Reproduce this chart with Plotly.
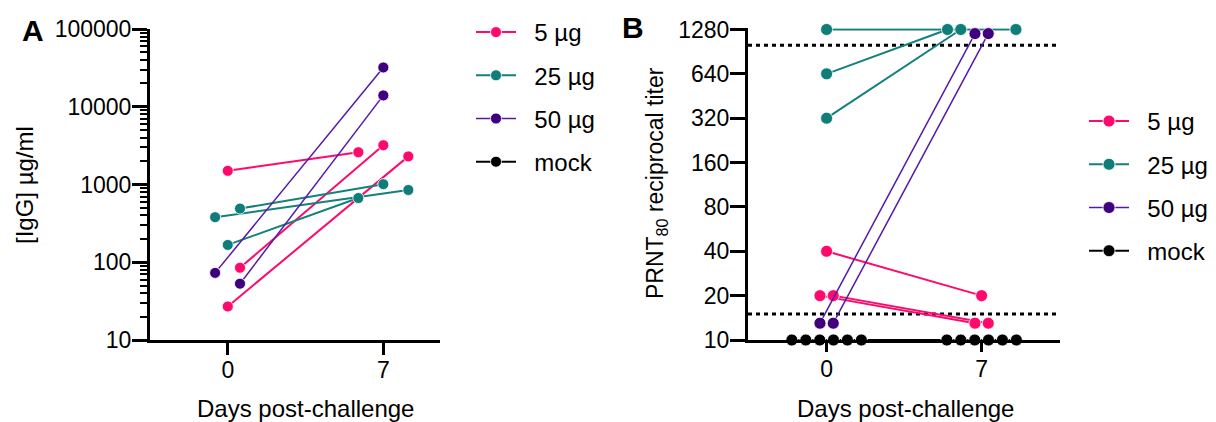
import plotly.graph_objects as go

FONT = "Liberation Sans, Arial, Helvetica, sans-serif"
PAGE_W, PAGE_H = 1216, 422
OFF = 8  # default page body margin around the figure
W, H = PAGE_W - OFF, PAGE_H - OFF

# ---------------- data ----------------
days = [0, 7]
day_labels = ["0", "7"]
series = ["5 µg", "25 µg", "50 µg", "mock"]

# Panel A: [IgG] µg/ml per animal (day 0 -> day 7)
igg_5_d0 = [1500, 85, 27]
igg_5_d7 = [2600, 3200, 2300]
igg_25_d0 = [380, 490, 167]
igg_25_d7 = [850, 1010, 670]
igg_50_d0 = [73, 53]
igg_50_d7 = [32000, 14000]

# Panel B: PRNT80 reciprocal titer per animal (day 0 -> day 7)
prnt_5_d0 = [40, 20, 20]
prnt_5_d7 = [20, 13, 13]
prnt_25_d0 = [1280, 640, 320]
prnt_25_d7 = [1280, 1280, 1280]
prnt_50_d0 = [13, 13]
prnt_50_d7 = [1200, 1200]
prnt_mock_d0 = [10, 10, 10, 10, 10, 10]
prnt_mock_d7 = [10, 10, 10, 10, 10, 10]
prnt_limits = [15, 1000]

igg_ticks = [10, 100, 1000, 10000, 100000]
prnt_ticks = [10, 20, 40, 80, 160, 320, 640, 1280]

# ---------------- styles / positions ----------------
COL = {"5 µg": "#FF0A6C", "25 µg": "#0F7D79", "50 µg": "#3F007D", "mock": "#000000"}
LINECOL = {"5 µg": "#FF0A6C", "25 µg": "#13807C", "50 µg": "#5519A8", "mock": "#000000"}
LW = {"5 µg": 2, "25 µg": 2, "50 µg": 1.5, "mock": 2}
LEG_PAD = "\u00a0\u00a0"  # gap between legend symbol and label

# horizontal jitter (days) of each animal's symbol (day 0, day 7)
JIT_A = {
    "5 µg": ([0, 0.55, 0], [-1.125, 0, 1.125]),
    "25 µg": ([-0.57, 0.55, 0], [1.125, 0, -1.125]),
    "50 µg": ([-0.57, 0.55], [0, 0]),
}
JIT_B = {
    "5 µg": ([0, -0.3, 0.3], [0, -0.3, 0.3]),
    "25 µg": ([0, 0, 0], [1.55, -1.54, -0.94]),
    "50 µg": ([-0.3, 0.3], [-0.3, 0.3]),
    "mock": ([-1.57, -0.94, -0.31, 0.31, 0.94, 1.57], [-1.57, -0.94, -0.31, 0.31, 0.94, 1.57]),
}

A_XRANGE = [-3.5, 9.55]
B_XRANGE = [-3.55, 10.54]


def px_x(p):
    return (p - OFF) / W


def px_y(p):
    return 1 - (p - OFF) / H


def pairs(d0, d7, j0, j7):
    xs, ys = [], []
    for a, b, ja, jb in zip(d0, d7, j0, j7):
        xs += [days[0] + ja, days[1] + jb, None]
        ys += [a, b, None]
    return xs, ys


fig = go.Figure()

dataA = {
    "5 µg": (igg_5_d0, igg_5_d7),
    "25 µg": (igg_25_d0, igg_25_d7),
    "50 µg": (igg_50_d0, igg_50_d7),
}
dataB = {
    "5 µg": (prnt_5_d0, prnt_5_d7),
    "25 µg": (prnt_25_d0, prnt_25_d7),
    "50 µg": (prnt_50_d0, prnt_50_d7),
    "mock": (prnt_mock_d0, prnt_mock_d7),
}

# dotted limit lines (panel B)
for lim in prnt_limits:
    fig.add_trace(go.Scatter(
        x=B_XRANGE, y=[lim, lim], xaxis="x2", yaxis="y2", mode="lines",
        line=dict(color="black", width=3, dash="4px,4px"), showlegend=False,
        hoverinfo="skip"))

for name in series:
    # panel A
    if name in dataA:
        d0, d7 = dataA[name]
        xs, ys = pairs(d0, d7, *JIT_A[name])
    else:
        xs, ys = [None], [None]
    fig.add_trace(go.Scatter(
        x=xs, y=ys, xaxis="x", yaxis="y", mode="lines+markers", name=LEG_PAD + name,
        legend="legend", legendgroup="A" + name, cliponaxis=False,
        line=dict(color=LINECOL[name], width=LW[name]),
        marker=dict(color=COL[name], size=11, line=dict(color="white", width=0.8))))
    # panel B
    d0, d7 = dataB[name]
    xs, ys = pairs(d0, d7, *JIT_B[name])
    fig.add_trace(go.Scatter(
        x=xs, y=ys, xaxis="x2", yaxis="y2", mode="lines+markers", name=LEG_PAD + name,
        legend="legend2", legendgroup="B" + name, cliponaxis=False,
        line=dict(color=LINECOL[name], width=LW[name]),
        marker=dict(color=COL[name], size=12, line=dict(color="white", width=0.8))))

tickfont = dict(family=FONT, size=23, color="black")
minor_vals = [m * d for d in [10, 100, 1000, 10000] for m in range(2, 10)]

fig.update_layout(
    width=W, height=H,
    margin=dict(l=0, r=0, t=0, b=0, autoexpand=False),
    paper_bgcolor="white", plot_bgcolor="white",
    font=dict(family=FONT, color="black"),
    xaxis=dict(domain=[px_x(150), px_x(440)], range=A_XRANGE, anchor="y",
               tickvals=days, ticktext=day_labels, ticks="outside", ticklen=12,
               tickwidth=3, tickcolor="black", showline=True, linewidth=3,
               linecolor="black", showgrid=False, zeroline=False, tickfont=tickfont,
               ticklabelstandoff=-5),
    yaxis=dict(domain=[px_y(340), px_y(29)], type="log", range=[1, 5], anchor="x",
               tickvals=igg_ticks, ticktext=[str(v) for v in igg_ticks],
               ticks="outside", ticklen=15, tickwidth=2.5, tickcolor="black",
               showline=True, linewidth=3, linecolor="black", showgrid=False,
               zeroline=False, tickfont=tickfont, ticklabelstandoff=-4,
               minor=dict(tickvals=minor_vals, ticks="outside", ticklen=7,
                          tickwidth=2, tickcolor="black", showgrid=False)),
    xaxis2=dict(domain=[px_x(748), px_x(1060)], range=B_XRANGE, anchor="y2",
                tickvals=days, ticktext=day_labels, ticks="outside", ticklen=9,
                tickwidth=3, tickcolor="black", showline=True, linewidth=3,
                linecolor="black", showgrid=False, zeroline=False, tickfont=tickfont,
                ticklabelstandoff=-3),
    yaxis2=dict(domain=[px_y(340), px_y(28.3)], type="log",
                range=[1, 3.1072 + 0.008], anchor="x2",
                tickvals=prnt_ticks, ticktext=[str(v) for v in prnt_ticks],
                ticks="outside", ticklen=15, tickwidth=2.5, tickcolor="black",
                showline=True, linewidth=3, linecolor="black", showgrid=False,
                zeroline=False, tickfont=tickfont, ticklabelstandoff=-4),
    legend=dict(x=px_x(471), y=px_y(10), xanchor="left", yanchor="top",
                font=dict(family=FONT, size=24, color="black"),
                tracegroupgap=9, itemwidth=40, bgcolor="rgba(0,0,0,0)"),
    legend2=dict(x=px_x(1084), y=px_y(99), xanchor="left", yanchor="top",
                 font=dict(family=FONT, size=24, color="black"),
                 tracegroupgap=9, itemwidth=40, bgcolor="rgba(0,0,0,0)"),
    showlegend=True,
)

ann = [
    dict(text="<b>A</b>", x=px_x(33), y=px_y(30), size=30, angle=0),
    dict(text="<b>B</b>", x=px_x(633), y=px_y(28), size=30, angle=0),
    dict(text="Days post-challenge", x=px_x(305), y=px_y(408), size=24, angle=0),
    dict(text="Days post-challenge", x=px_x(905), y=px_y(408), size=24, angle=0),
    dict(text="[IgG] µg/ml", x=px_x(24), y=px_y(185), size=24, angle=-90),
    dict(text="PRNT<sub>80</sub> reciprocal titer", x=px_x(656), y=px_y(183), size=23, angle=-90),
]
for a in ann:
    fig.add_annotation(text=a["text"], x=a["x"], y=a["y"], xref="paper", yref="paper",
                       xanchor="center", yanchor="middle", showarrow=False,
                       textangle=a["angle"],
                       font=dict(family=FONT, size=a["size"], color="black"))

fig.write_html("out.html")
